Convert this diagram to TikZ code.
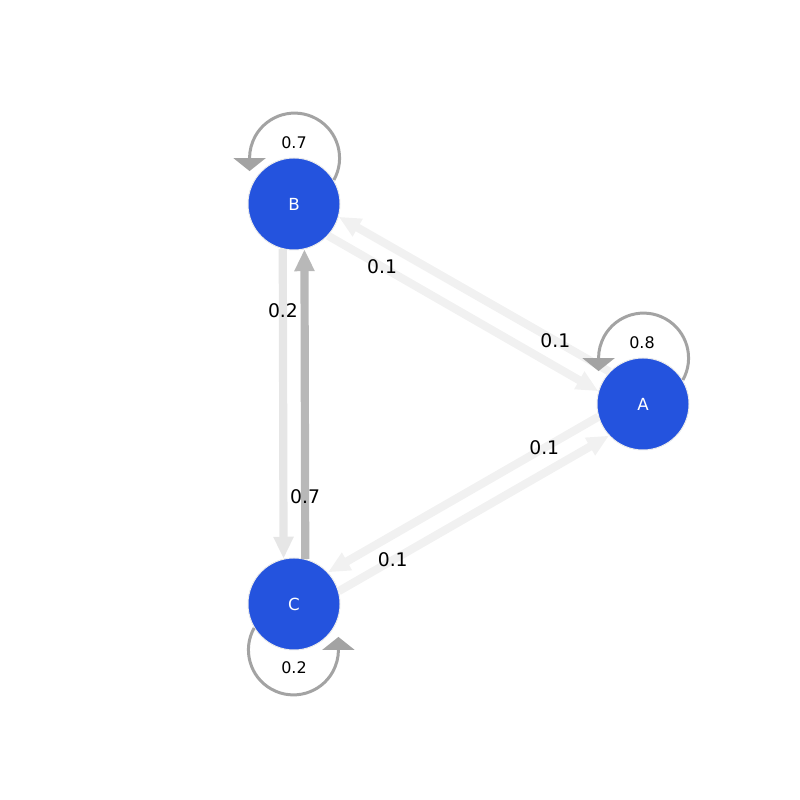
\documentclass[tikz,border=0pt]{standalone}
\usepackage{fontspec}
\setmainfont{DejaVu Sans}
\usetikzlibrary{arrows.meta}
\definecolor{nodeblue}{HTML}{2453DE}
\definecolor{wone}{HTML}{F1F1F1}
\definecolor{wtwo}{HTML}{E6E6E6}
\definecolor{wseven}{HTML}{B8B8B8}
\definecolor{loopgray}{HTML}{A3A3A3}

\begin{document}
\begin{tikzpicture}[x=0.72pt,y=0.72pt,
  state/.style={circle,fill=nodeblue,draw=black!8,line width=0.7pt,
    minimum size=66.24pt,inner sep=0pt,text=white,font=\fontsize{12}{14}\selectfont},
  trans/.style={line width=5.9pt,-{Triangle[width=13.7pt,length=15.8pt]}},
  selfloop/.style={draw=loopgray,line width=2.16pt,-{Triangle[width=23pt,length=9.4pt]}},
  weight/.style={font=\fontsize{13.5}{15}\selectfont,pos=0.2},
  loopweight/.style={font=\fontsize{11.5}{13}\selectfont}]
  \useasboundingbox (0,0) rectangle (800,800);
  \node[state] (A) at (643,396) {A};
  \node[state] (B) at (294,596) {B};
  \node[state] (C) at (294,196) {C};
  \draw[trans,draw=wtwo] (B.256.2) -- node[weight] {0.2} (C.103.8);
  \draw[trans,draw=wseven] (C.76.2) -- node[weight] {0.7} (B.283.8);
  \draw[trans,draw=wone] (B.-43.6) -- node[weight] {0.1} (A.164);
  \draw[trans,draw=wone] (A.136.4) -- node[weight] {0.1} (B.-16);
  \draw[trans,draw=wone] (C.16) -- node[weight] {0.1} (A.223.6);
  \draw[trans,draw=wone] (A.196) -- node[weight] {0.1} (C.43.6);
  \draw[selfloop] (B.31.4) arc[start angle=-29.2,end angle=180,radius=32.4pt] -- ++(0,-13);
  \draw[selfloop] (A.31.4) arc[start angle=-29.2,end angle=180,radius=32.4pt] -- ++(0,-13);
  \draw[selfloop] (C.211.4) arc[start angle=150.8,end angle=360,radius=32.4pt] -- ++(0,13);
  \node[loopweight] (wB) at (294,657) {0.7};
  \node[loopweight] (wA) at (642,457) {0.8};
  \node[loopweight] (wC) at (294,132) {0.2};
\end{tikzpicture}
\end{document}
